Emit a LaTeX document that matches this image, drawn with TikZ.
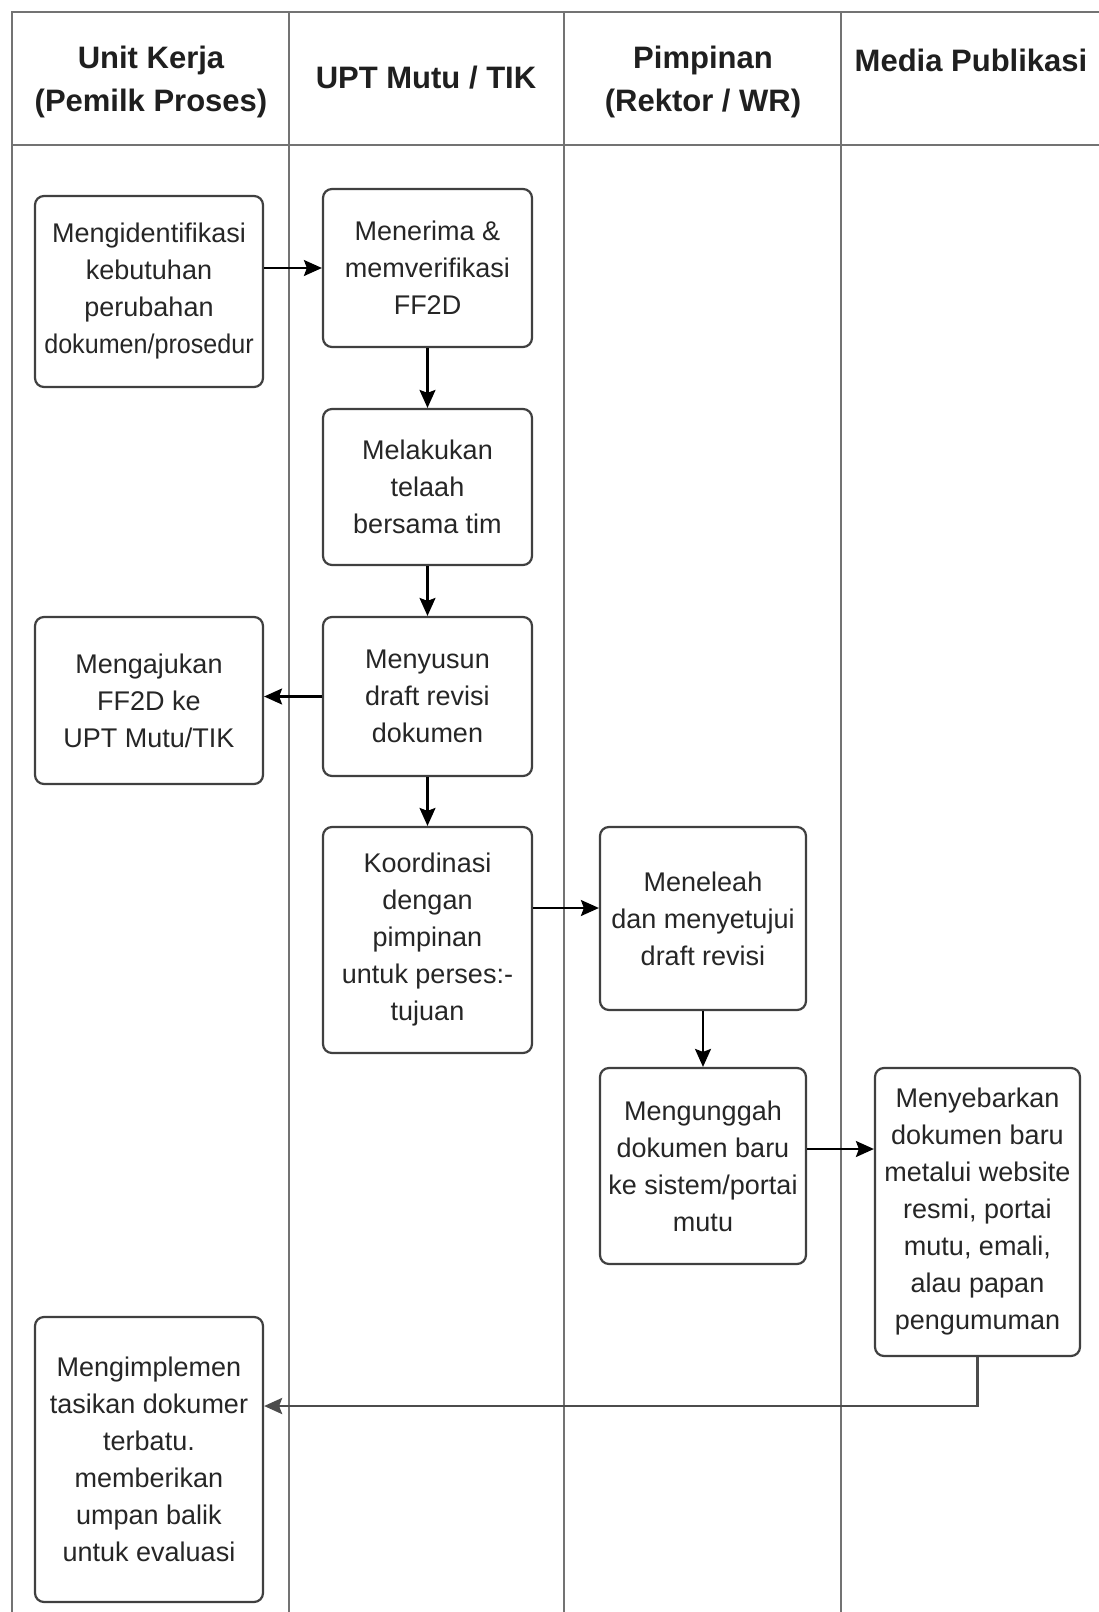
\documentclass[tikz,border=0pt]{standalone}
\usepackage{fontspec}
\usepackage{graphicx}
\setmainfont{Liberation Sans}
\usetikzlibrary{arrows.meta}
\tikzset{
  lane/.style={draw=black!55, line width=2.6pt},
  hdr/.style={font=\fontsize{31}{43}\selectfont\bfseries, text=black!88, align=center, inner sep=0pt},
  proc/.style={draw=black!75, line width=2.2pt, rounded corners=9pt, fill=white,
    font=\fontsize{27}{37}\selectfont, text=black!85, align=center, inner sep=0pt},
  arr/.style={draw=black, line width=2.2pt, -{Stealth[length=18pt,width=16pt,inset=3pt]}},
  retarr/.style={draw=black!70, line width=2.8pt, -{Stealth[length=18pt,width=16pt,inset=3pt]}}
}
\begin{document}
\begin{tikzpicture}[x=1pt,y=-1pt]
\useasboundingbox (0,0) rectangle (1099,1612);
\fill[white] (0,0) rectangle (1099,1612);

% swimlane frame
\draw[lane] (1099,12) -- (12,12) -- (12,1612);
\draw[lane] (12,145) -- (1099,145);
\draw[lane] (289,12) -- (289,1612);
\draw[lane] (564,12) -- (564,1612);
\draw[lane] (841,12) -- (841,1612);

% headers
\node[hdr] (h1) at (151,82) {Unit Kerja\\(Pemilk Proses)};
\node[hdr] (h2) at (426,78) {UPT Mutu / TIK};
\node[hdr] (h3) at (703,82) {Pimpinan\\(Rektor / WR)};
\node[hdr] (h4) at (971,60) {Media Publikasi};

% process boxes
\node[proc, minimum width=228pt, minimum height=191pt] (b1) at (149,291.5)
  {Mengidentifikasi\\kebutuhan\\perubahan\\\scalebox{0.93}[1]{dokumen/prosedur}};
\node[proc, minimum width=209pt, minimum height=158pt] (b2) at (427.5,268)
  {Menerima \&\\memverifikasi\\FF2D};
\node[proc, minimum width=209pt, minimum height=156pt] (b3) at (427.5,487)
  {Melakukan\\telaah\\bersama tim};
\node[proc, minimum width=209pt, minimum height=159pt] (b4) at (427.5,696.5)
  {Menyusun\\draft revisi\\dokumen};
\node[proc, minimum width=228pt, minimum height=167pt] (b5) at (149,700.5)
  {Mengajukan\\FF2D ke\\UPT Mutu/TIK};
\node[proc, minimum width=209pt, minimum height=226pt] (b6) at (427.5,940)
  {Koordinasi\\dengan\\pimpinan\\untuk perses:-\\tujuan};
\node[proc, minimum width=206pt, minimum height=183pt] (b7) at (703,918.5)
  {Meneleah\\dan menyetujui\\draft revisi};
\node[proc, minimum width=206pt, minimum height=196pt] (b8) at (703,1166)
  {Mengunggah\\dokumen baru\\ke sistem/portai\\mutu};
\node[proc, minimum width=205pt, minimum height=288pt] (b9) at (977.5,1212)
  {Menyebarkan\\dokumen baru\\metalui website\\resmi, portai\\mutu, emali,\\alau papan\\pengumuman};
\node[proc, minimum width=228pt, minimum height=285pt] (b10) at (149,1459.5)
  {Mengimplemen\\tasikan dokumer\\terbatu.\\memberikan\\umpan balik\\untuk evaluasi};

% helper coordinates for arrow heights
\coordinate (y67) at (0,908);
\coordinate (y89) at (0,1149);
\coordinate (y910) at (0,1406);

% connectors
\draw[arr] (b1.east |- b2.west) -- (b2.west);
\draw[arr] (b2.south) -- (b3.north);
\draw[arr] (b3.south) -- (b4.north);
\draw[arr] (b4.west) -- (b5.east |- b4.west);
\draw[arr] (b4.south) -- (b6.north);
\draw[arr] (b6.east |- y67) -- (b7.west |- y67);
\draw[arr] (b7.south) -- (b8.north);
\draw[arr] (b8.east |- y89) -- (b9.west |- y89);
\draw[retarr] (b9.south) -- (b9.south |- y910) -- (b10.east |- y910);
\end{tikzpicture}
\end{document}
